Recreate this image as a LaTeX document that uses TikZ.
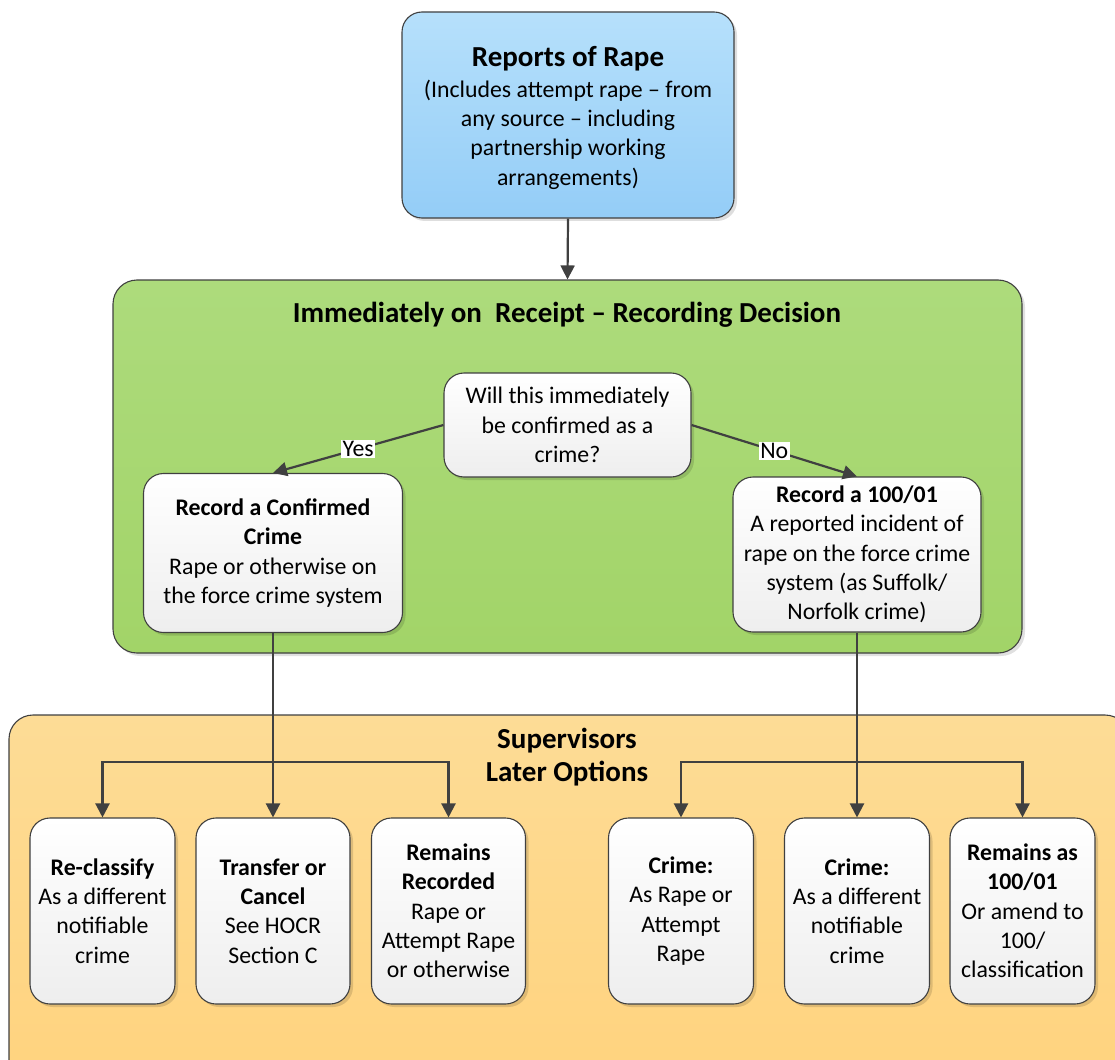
\documentclass[tikz,border=0pt]{standalone}
\usepackage{fontspec}
\setmainfont{Carlito}
\usetikzlibrary{arrows.meta,shadows,positioning}
\definecolor{edgec}{HTML}{404040}
\definecolor{bluetop}{HTML}{B6E0FB}
\definecolor{bluebot}{HTML}{94CDF7}
\definecolor{greentop}{HTML}{ADDB7C}
\definecolor{greenbot}{HTML}{A2D468}
\definecolor{orangetop}{HTML}{FDDC96}
\definecolor{orangebot}{HTML}{FFD37E}
\definecolor{whitebot}{HTML}{EEEEEE}
\tikzset{
  x=1pt, y=-1pt,
  every node/.style={font=\fontsize{23.8}{29.3}\selectfont, align=center, inner sep=0pt},
  boxbase/.style={draw=edgec, line width=1.1pt, rounded corners=20pt},
  whitebox/.style={boxbase, top color=white, bottom color=whitebot,
     drop shadow={shadow xshift=3pt, shadow yshift=-3pt, fill=black, opacity=0.13}},
  bluebox/.style={boxbase, top color=bluetop, bottom color=bluebot,
     drop shadow={shadow xshift=3pt, shadow yshift=-3pt, fill=black, opacity=0.13}},
  greenbox/.style={draw=edgec, line width=1.1pt, rounded corners=24pt, top color=greentop, bottom color=greenbot,
     drop shadow={shadow xshift=3pt, shadow yshift=-3pt, fill=black, opacity=0.12}},
  orangebox/.style={draw=edgec, line width=1.1pt, rounded corners=24pt, top color=orangetop, bottom color=orangebot},
  conn/.style={draw=edgec, line width=2.2pt},
  arr/.style={conn, -{Triangle[width=14pt,length=14pt]}},
  lbl/.style={fill=white, inner sep=1.5pt},
  ttl/.style={font=\fontsize{29}{33}\selectfont\bfseries},
}
\begin{document}
\begin{tikzpicture}
\useasboundingbox (0,0) rectangle (1115,1059);
\clip (0,0) rectangle (1115,1059);

% containers
\node[greenbox, minimum width=909pt, minimum height=373pt] (dec) at (567.5,466.5) {};
\node[ttl] (dectitle) at (567,315) {Immediately on\ \ Receipt – Recording Decision};

\node[orangebox, minimum width=1120pt, minimum height=370pt] (sup) at (569,900) {};
\node[ttl] (suptitle) at (567,757) {Supervisors\\Later Options};

% top box
\node[bluebox, minimum width=332pt, minimum height=206pt] (rep) at (568,115) {};
\node (reptext) at (568,118)
  {{\fontsize{29}{33}\selectfont\bfseries Reports of Rape}\\[1pt](Includes attempt rape – from\\any source – including\\partnership working\\arrangements)};

% decision level
\node[whitebox, minimum width=247pt, minimum height=104pt] (q) at (567.5,425)
  {Will this immediately\\be confirmed as a\\crime?};
\node[whitebox, minimum width=259pt, minimum height=159pt] (yes) at (273,553)
  {\textbf{Record a Confirmed}\\\textbf{Crime}\\Rape or otherwise on\\the force crime system};
\node[whitebox, minimum width=248pt, minimum height=155pt] (no) at (857,554.5)
  {\textbf{Record a 100/01}\\A reported incident of\\rape on the force crime\\system (as Suffolk/\\Norfolk crime)};

% bottom boxes
\tikzset{small/.style={whitebox, minimum width=145pt, minimum height=186pt}}
\node[small] (recl) at (102.5,911) {\textbf{Re-classify}\\As a different\\notifiable\\crime};
\node[small, minimum width=154pt] (trans) at (273,911) {\textbf{Transfer or}\\\textbf{Cancel}\\See HOCR\\Section C};
\node[small, minimum width=154pt] (remr) at (448.5,911) {\textbf{Remains}\\\textbf{Recorded}\\Rape or\\Attempt Rape\\or otherwise};
\node[small] (crr) at (681,911) {\textbf{Crime:}\\As Rape or\\Attempt\\Rape};
\node[small] (crd) at (857,911) {\textbf{Crime:}\\As a different\\notifiable\\crime};
\node[small] (rema) at (1022.5,911) {\textbf{Remains as}\\\textbf{100/01}\\Or amend to\\100/\\classification};

% connectors
\draw[arr] (rep.south) -- (dec.north);
\draw[arr] (q.west) -- node[lbl] {Yes} (yes.north);
\draw[arr] (q.east) -- node[lbl] {No} (no.north);

\coordinate (lbr) at (273,762);
\coordinate (rbr) at (857,762);
\draw[arr] (yes.south) -- (trans.north);
\draw[arr] (lbr) -| (recl.north);
\draw[arr] (lbr) -| (remr.north);
\draw[arr] (no.south) -- (crd.north);
\draw[arr] (rbr) -| (crr.north);
\draw[arr] (rbr) -| (rema.north);
\end{tikzpicture}
\end{document}
